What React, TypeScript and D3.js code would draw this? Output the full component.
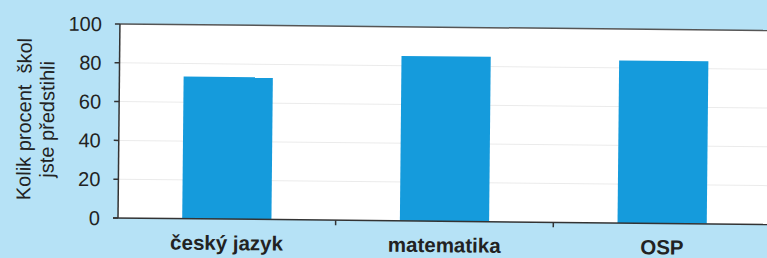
import React from "react";
import * as d3 from "d3";

const categories = ["český jazyk", "matematika", "OSP"];
const values = [73.3, 85, 83.8];
const yTicks = [0, 20, 40, 60, 80, 100];
const yLabelLines = ["Kolik procent  škol", "jste předstihli"];

export default function App() {
  const W = 767, H = 258;
  const left = 118, right = 775, top = 24, bottom = 218;
  const x = d3.scaleBand<string>().domain(categories).range([left, left + 653]).paddingInner(0.59).paddingOuter(0.295);
  const xb = d3.scaleBand<string>().domain(categories).range([left, left + 653]);
  const y = d3.scaleLinear().domain([0, 100]).range([bottom, top]);
  const font = "Liberation Sans, Arial, sans-serif";
  return (
    <svg width={W} height={H} style={{ position: "absolute", left: 0, top: 0 }} fontFamily={font}>
      <rect x={0} y={0} width={W} height={H} fill="#b6e2f6" />
      <g transform={`rotate(0.57 ${left} ${bottom})`}>
        <rect x={left} y={top} width={right - left} height={bottom - top} fill="#ffffff" />
        {yTicks.filter(t => t > 0 && t < 100).map(t => (
          <line key={t} x1={left} x2={right} y1={y(t)} y2={y(t)} stroke="#ebebeb" strokeWidth={1} />
        ))}
        {categories.map((c, i) => (
          <rect key={c} x={x(c)!} y={y(values[i])} width={x.bandwidth()} height={bottom - y(values[i])} fill="#159bdc" />
        ))}
        <line x1={left} x2={right} y1={top} y2={top} stroke="#555" strokeWidth={1.5} />
        <line x1={left} x2={left} y1={top} y2={bottom} stroke="#333" strokeWidth={1.5} />
        <line x1={left - 5} x2={right} y1={bottom} y2={bottom} stroke="#333" strokeWidth={1.5} />
        {yTicks.map(t => (
          <g key={t}>
            <line x1={left - 5} x2={left} y1={y(t)} y2={y(t)} stroke="#333" strokeWidth={1.5} />
            <text x={100} y={y(t)} dy="0.36em" textAnchor="end" fontSize={20} fill="#222">{t}</text>
          </g>
        ))}
        {categories.slice(1).map(c => (
          <line key={c} x1={xb(c)!} x2={xb(c)!} y1={bottom} y2={bottom + 5} stroke="#333" strokeWidth={1.5} />
        ))}
        {categories.map(c => (
          <text key={c} x={x(c)! + x.bandwidth() / 2} y={249} textAnchor="middle" fontSize={20.5} fontWeight="bold" fill="#222">{c}</text>
        ))}
        <g transform={`translate(0, 120) rotate(-90)`}>
          {yLabelLines.map((l, i) => (
            <text key={i} x={0} y={30 + i * 23} textAnchor="middle" fontSize={20} fill="#222" style={{ whiteSpace: "pre" }}>{l}</text>
          ))}
        </g>
      </g>
    </svg>
  );
}
